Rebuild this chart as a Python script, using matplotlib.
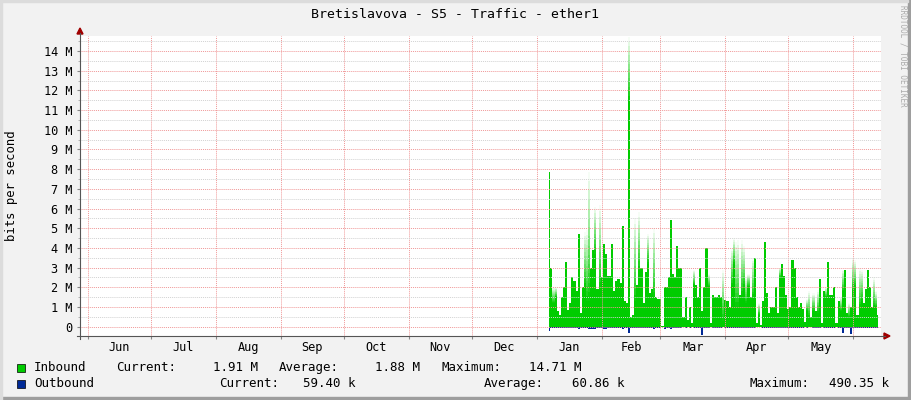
import numpy as np
import matplotlib
matplotlib.use("Agg")
import matplotlib.pyplot as plt
from matplotlib.patches import Rectangle, Polygon
from matplotlib.lines import Line2D
from matplotlib.ticker import MultipleLocator, FixedLocator, NullFormatter

# ---- data (bits per second, in millions) ----
title = "Bretislavova - S5 - Traffic - ether1"
month_labels = ["Jun", "Jul", "Aug", "Sep", "Oct", "Nov", "Dec",
                "Jan", "Feb", "Mar", "Apr", "May"]
first_month = "2017-06"
view_start = "2017-05-28T04"
view_end = "2018-06-14T05"
data_start = "2018-01-06T12"   # one sample per day from here

# daily average (solid green)
inbound_avg = [
    7.87, 2.96, 1.2, 1.5, 0.8, 0.6, 1.5, 2.0, 3.3, 0.85,
    1.2, 2.5, 2.3, 1.8, 4.7, 0.7, 2.0, 2.0, 1.3, 1.3,
    3.0, 3.9, 3.7, 1.9, 1.95, 2.5, 4.2, 3.7, 2.6, 2.6,
    4.2, 1.8, 2.3, 2.4, 2.2, 5.1, 1.3, 1.2, 11.5, 0.5,
    0.6, 1.3, 2.1, 2.9, 3.0, 1.2, 2.8, 3.2, 1.7, 1.9,
    1.5, 1.5, 1.4, 1.4, 0.05, 2.0, 2.0, 2.5, 5.4, 2.7,
    2.5, 4.1, 3.0, 3.0, 0.5, 1.5, 0.35, 1.0, 0.2, 2.1,
    2.1, 1.5, 3.0, 0.8, 2.0, 4.0, 2.0, 0.2, 1.6, 1.5,
    1.5, 1.6, 1.5, 0.3, 1.35, 1.3, 1.0, 2.1, 3.2, 1.0,
    1.0, 1.6, 1.6, 2.0, 1.2, 2.0, 1.5, 1.5, 3.5, 0.2,
    0.6, 0.1, 1.3, 4.3, 1.7, 0.7, 1.0, 1.0, 2.0, 0.7,
    2.5, 3.2, 2.6, 1.6, 0.9, 1.0, 3.4, 3.0, 1.5, 1.0,
    1.2, 0.9, 0.25, 0.8, 0.5, 0.5, 0.8, 0.8, 0.7, 2.4,
    0.2, 1.8, 1.5, 3.3, 1.6, 1.6, 2.0, 0.2, 1.3, 0.8,
    1.8, 2.9, 0.7, 0.5, 1.0, 1.8, 2.0, 0.6, 1.0, 1.3,
    1.2, 1.9, 2.9, 2.0, 1.0, 1.0, 1.0, 0.6,
]
# daily peak (faded top)
inbound_max = [
    7.87, 2.96, 2.0, 2.0, 0.8, 0.6, 1.5, 2.0, 3.3, 0.85,
    1.2, 2.5, 2.3, 1.8, 4.7, 0.7, 2.0, 4.8, 4.9, 7.87,
    3.0, 3.9, 6.1, 1.9, 6.2, 2.5, 4.2, 3.7, 2.6, 2.6,
    4.2, 1.8, 2.3, 2.4, 2.2, 5.1, 1.3, 1.2, 14.71, 0.5,
    0.6, 5.5, 2.1, 5.8, 3.0, 1.2, 2.8, 4.7, 1.7, 1.9,
    5.0, 1.5, 1.4, 1.4, 0.05, 2.0, 2.0, 2.5, 5.4, 2.7,
    2.5, 4.1, 3.0, 3.0, 0.5, 1.5, 0.35, 1.0, 0.2, 2.9,
    2.1, 1.5, 3.0, 0.8, 2.0, 4.0, 2.7, 0.2, 1.6, 1.5,
    1.5, 1.6, 1.5, 2.9, 1.35, 1.3, 1.0, 4.0, 4.5, 4.3,
    4.4, 1.6, 4.4, 4.1, 2.5, 2.7, 1.5, 3.5, 3.5, 0.2,
    1.2, 0.1, 1.3, 4.3, 1.7, 0.7, 1.0, 1.0, 2.0, 0.7,
    3.0, 3.2, 2.6, 1.6, 0.9, 1.0, 3.4, 3.0, 1.5, 1.0,
    1.2, 0.9, 0.25, 1.4, 1.8, 0.5, 1.7, 0.8, 1.85, 2.4,
    0.2, 1.8, 2.0, 3.3, 1.6, 1.6, 2.0, 0.2, 1.3, 1.5,
    2.9, 2.9, 0.7, 1.2, 1.0, 3.5, 3.4, 0.6, 2.96, 2.9,
    1.2, 1.9, 2.9, 2.0, 1.0, 2.5, 1.8, 0.6,
]
outbound = [
    0.20, 0.08, 0.05, 0.06, 0.04, 0.05, 0.07, 0.06, 0.08, 0.05,
    0.06, 0.07, 0.05, 0.06, 0.12, 0.05, 0.06, 0.07, 0.08, 0.10,
    0.12, 0.09, 0.10, 0.08, 0.06, 0.07, 0.10, 0.09, 0.08, 0.07,
    0.08, 0.06, 0.07, 0.06, 0.07, 0.09, 0.06, 0.05, 0.30, 0.04,
    0.05, 0.08, 0.06, 0.07, 0.08, 0.05, 0.07, 0.08, 0.06, 0.06,
    0.09, 0.05, 0.05, 0.06, 0.01, 0.10, 0.06, 0.07, 0.09, 0.06,
    0.06, 0.08, 0.07, 0.07, 0.03, 0.05, 0.02, 0.05, 0.02, 0.06,
    0.06, 0.05, 0.07, 0.40, 0.06, 0.08, 0.06, 0.02, 0.05, 0.05,
    0.05, 0.05, 0.05, 0.03, 0.05, 0.05, 0.04, 0.06, 0.08, 0.05,
    0.05, 0.05, 0.06, 0.06, 0.05, 0.06, 0.05, 0.05, 0.07, 0.02,
    0.03, 0.02, 0.05, 0.08, 0.05, 0.04, 0.04, 0.04, 0.06, 0.04,
    0.06, 0.07, 0.06, 0.05, 0.04, 0.05, 0.07, 0.06, 0.05, 0.04,
    0.05, 0.04, 0.02, 0.04, 0.03, 0.03, 0.04, 0.04, 0.04, 0.06,
    0.02, 0.05, 0.05, 0.07, 0.05, 0.05, 0.06, 0.02, 0.05, 0.04,
    0.30, 0.07, 0.04, 0.04, 0.38, 0.06, 0.06, 0.04, 0.05, 0.05,
    0.05, 0.06, 0.07, 0.06, 0.05, 0.05, 0.05, 0.04,
]
inbound_stats = ["1.91 M", "1.88 M", "14.71 M"]
outbound_stats = ["59.40 k", "60.86 k", "490.35 k"]

GREEN = "#00CC00"
BLUE = "#002A97"
W, H = 911, 400


def fx(px):
    return px / W


def fy(py):
    return 1 - py / H


# x in days relative to Jan 1
base = np.datetime64("2018-01-01T00", "h")
day = np.timedelta64(1, "D")
to_days = lambda d: (np.datetime64(d, "h") - base) / day

months = np.arange(np.datetime64(first_month), np.datetime64(first_month) + 13)
month_x = (months.astype("datetime64[h]") - base) / day
mid_x = (month_x[:-1] + month_x[1:]) / 2

avg = np.array(inbound_avg)
peak = np.array(inbound_max)
out = np.array(outbound)
x = to_days(data_start) + 0.5 + np.arange(len(avg))

plt.rcParams["font.family"] = "DejaVu Sans Mono"
fig = plt.figure(figsize=(W / 100, H / 100), dpi=100, facecolor="#F2F2F2")
ax = fig.add_axes([fx(80), fy(336), fx(881) - fx(80), fy(36) - fy(336)])
ax.set_facecolor("white")

# solid average area
ax.fill_between(x, 0, avg, step="mid", color=GREEN, lw=0, zorder=1)
# faded peaks: stack thin bands with falling alpha
n = 14
for i in range(n):
    lo = avg + (peak - avg) * i / n
    hi = avg + (peak - avg) * (i + 1) / n
    ax.fill_between(x, lo, hi, step="mid", color=GREEN,
                    alpha=1 - (i + 0.5) / n, lw=0, zorder=1)
ax.fill_between(x, 0, -out, step="mid", color=BLUE, lw=0, zorder=1)

ax.set_xlim(to_days(view_start), to_days(view_end))
ax.set_ylim(-0.47, 14.76)

ax.yaxis.set_major_locator(MultipleLocator(1))
ax.yaxis.set_minor_locator(MultipleLocator(0.5))
ax.xaxis.set_major_locator(FixedLocator(month_x))
ax.xaxis.set_major_formatter(NullFormatter())
ax.set_xticks(mid_x, month_labels, minor=True)

ax.grid(which="major", axis="both", color="#F09898", linestyle=(0, (1, 1)), lw=0.7)
ax.grid(which="minor", axis="y", color="#D2D2D2", linestyle=(0, (1, 1)), lw=0.7)
ax.set_axisbelow(False)

ax.tick_params(axis="x", which="major", length=2.5, color="#888888", direction="out")
ax.tick_params(axis="x", which="minor", length=0, pad=3.5, labelsize=8.6)
ax.tick_params(axis="y", which="major", length=2.2, color="#888888", pad=3)
ax.tick_params(axis="y", which="minor", length=1.2, color="#AAAAAA")
ylabels = ["0"] + [f"{v} M" for v in range(1, 15)]
ax.set_yticks(range(15), ylabels)
ax.tick_params(axis="y", labelsize=8.6)
for s in ax.spines.values():
    s.set_visible(False)

# axis lines with arrows
fig.add_artist(Line2D([fx(80), fx(80)], [fy(339), fy(33)], color="#555555",
                      lw=0.8, transform=fig.transFigure))
fig.add_artist(Line2D([fx(77), fx(885)], [fy(336), fy(336)], color="#555555",
                      lw=0.8, transform=fig.transFigure))
fig.add_artist(Polygon([[fx(77), fy(34)], [fx(83), fy(34)], [fx(80), fy(28)]],
                       closed=True, color="#A00000", transform=fig.transFigure))
fig.add_artist(Polygon([[fx(884), fy(333)], [fx(884), fy(339)], [fx(890), fy(336)]],
                       closed=True, color="#A00000", transform=fig.transFigure))

# frame shading
fig.add_artist(Rectangle((0, 0), 1, fy(397), color="#9E9E9E", transform=fig.transFigure))
fig.add_artist(Rectangle((fx(908), 0), 1 - fx(908), 1, color="#9E9E9E",
                         transform=fig.transFigure))
fig.add_artist(Rectangle((0, 0), fx(1.5), 1, color="#DCDCDC", transform=fig.transFigure))
fig.add_artist(Rectangle((0, fy(1.5)), fx(908), 1 - fy(1.5), color="#DCDCDC",
                         transform=fig.transFigure))

fig.text(fx(455), fy(14), title, ha="center", va="center", fontsize=9.5)
fig.text(fx(12), fy(186), "bits per second", rotation=90, ha="center",
         va="center", fontsize=8.8)
fig.text(fx(903), fy(5), "RRDTOOL / TOBI OETIKER", rotation=270, ha="center",
         va="top", fontsize=5.5, color="#AAAAAA")

# legend
fs = 9
fig.add_artist(Rectangle((fx(17), fy(372)), 8 / W, 8 / H, facecolor=GREEN,
                         edgecolor="black", lw=0.5, transform=fig.transFigure))
fig.add_artist(Rectangle((fx(17), fy(388)), 8 / W, 8 / H, facecolor=BLUE,
                         edgecolor="black", lw=0.5, transform=fig.transFigure))
row1 = [(34, "Inbound"), (116, "Current:"), (213, inbound_stats[0]),
        (279, "Average:"), (375, inbound_stats[1]), (441, "Maximum:"),
        (529, inbound_stats[2])]
row2 = [(34, "Outbound"), (219, "Current:"), (303, outbound_stats[0]),
        (484, "Average:"), (572, outbound_stats[1]), (750, "Maximum:"),
        (829, outbound_stats[2])]
for px, s in row1:
    fig.text(fx(px), fy(367.5), s, ha="left", va="center", fontsize=fs)
for px, s in row2:
    fig.text(fx(px), fy(383.5), s, ha="left", va="center", fontsize=fs)

fig.savefig("out.png", dpi=100, facecolor=fig.get_facecolor())
